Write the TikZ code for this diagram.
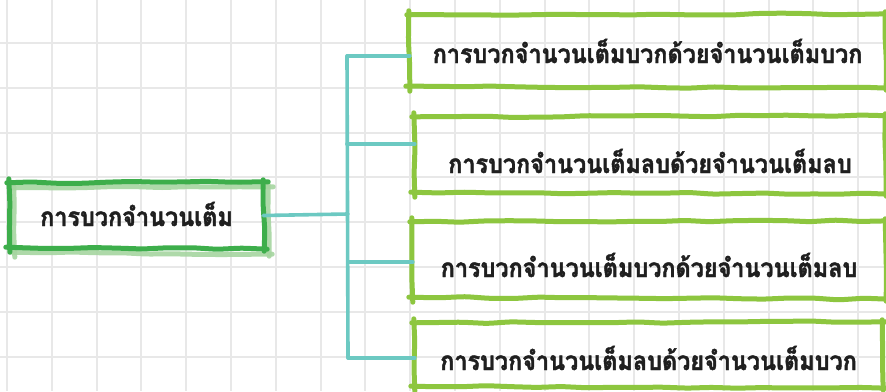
\documentclass[tikz,border=0pt]{standalone}
\usepackage{fontspec}
\newfontfamily\thaifont[Script=Thai,FakeStretch=0.9,BoldFeatures={FakeBold=1.6}]{Loma}
\usetikzlibrary{decorations.pathmorphing}
\definecolor{gridc}{HTML}{E8E8E8}
\definecolor{rootc}{HTML}{3DAE4B}
\definecolor{rootsh}{HTML}{A6D5A0}
\definecolor{kidc}{HTML}{8DC63F}
\definecolor{linkc}{HTML}{6CC9C2}
\newcommand\skbox[3]{%
  \draw[sk,#2] ([shift={(#3-3,#3+0)}]#1.north west) -- ([shift={(#3+5,#3-1)}]#1.north east);
  \draw[sk,#2] ([shift={(#3+0,#3-3)}]#1.north east) -- ([shift={(#3+1,#3+3)}]#1.south east);
  \draw[sk,#2] ([shift={(#3+4,#3+1)}]#1.south east) -- ([shift={(#3-4,#3-1)}]#1.south west);
  \draw[sk,#2] ([shift={(#3+0,#3+4)}]#1.south west) -- ([shift={(#3-1,#3-4)}]#1.north west);
}
\begin{document}
\begin{tikzpicture}[x=1pt,y=-1pt,
  sk/.style={line width=5pt,line cap=round,decorate,
    decoration={random steps,segment length=25pt,amplitude=0.9pt},rounded corners=4pt},
  boxnode/.style={inner sep=0pt,font=\thaifont\bfseries\fontsize{26}{30}\selectfont,text=black!88},
  link/.style={line width=3.6pt,linkc,line cap=round,line join=round}]
\pgfmathsetseed{7}
\useasboundingbox (0,0) rectangle (886,391);
\fill[white] (0,0) rectangle (886,391);
% grid
\foreach \i in {0,...,19} {\draw[gridc,line width=2pt] (7+44.8*\i,0) -- (7+44.8*\i,391);}
\foreach \j in {0,...,8} {\draw[gridc,line width=2pt] (0,-1.8+44.8*\j) -- (886,-1.8+44.8*\j);}
% nodes
\node[boxnode,minimum width=253pt,text height=43pt,text depth=22pt] (root) at (136.5,215.5) {การบวกจำนวนเต็ม};
\node[boxnode,minimum width=475pt,text height=48pt,text depth=24pt] (c1) at (647.5,51) {การบวกจำนวนเต็มบวกด้วยจำนวนเต็มบวก};
\node[boxnode,minimum width=470pt,text height=56pt,text depth=20pt] (c2) at (650,155) {การบวกจำนวนเต็มลบด้วยจำนวนเต็มลบ};
\node[boxnode,minimum width=472pt,text height=55pt,text depth=21pt] (c3) at (649,260) {การบวกจำนวนเต็มบวกด้วยจำนวนเต็มลบ};
\node[boxnode,minimum width=467pt,text height=47pt,text depth=17pt] (c4) at (648.5,355) {การบวกจำนวนเต็มลบด้วยจำนวนเต็มบวก};
% borders
\skbox{root}{rootsh,opacity=0.9}{5}
\skbox{root}{rootc}{0}
\skbox{c1}{kidc}{0}
\skbox{c2}{kidc}{0}
\skbox{c3}{kidc}{0}
\skbox{c4}{kidc}{0}
% connectors
\coordinate (j0) at (348,214);
\coordinate (j1) at (347,56);
\coordinate (j2) at (347,144);
\coordinate (j3) at (348,262);
\coordinate (j4) at (348,358);
\draw[link] (root.east) -- (j0);
\draw[link] (j1) -- (j4);
\draw[link] (j1) -- (j1 -| c1.west);
\draw[link] (j2) -- (j2 -| c2.west);
\draw[link] (j3) -- (j3 -| c3.west);
\draw[link] (j4) -- (j4 -| c4.west);
\end{tikzpicture}
\end{document}
